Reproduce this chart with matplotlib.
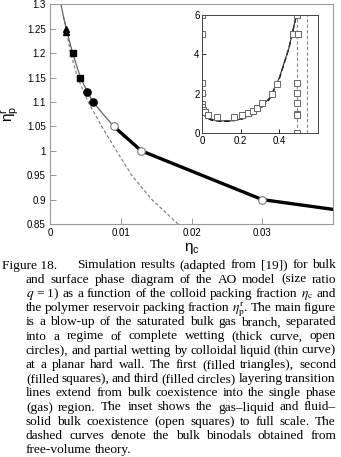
import matplotlib
matplotlib.use("Agg")
import matplotlib.pyplot as plt

plt.rcParams['font.family'] = ['Liberation Sans', 'DejaVu Sans']
plt.rcParams['mathtext.fontset'] = 'stix'

# main figure: saturated bulk gas branch
thin_x = [0.00155, 0.0019, 0.0023, 0.0032, 0.0043, 0.0053, 0.0061, 0.0075, 0.009]
thin_y = [1.3, 1.275, 1.25, 1.2, 1.15, 1.12, 1.10, 1.075, 1.05]
thick_x = [0.009, 0.0129, 0.03, 0.04]
thick_y = [1.05, 1.0, 0.9, 0.88]
fv_x = [0.0019, 0.0023, 0.0029, 0.0039, 0.0054, 0.0073, 0.0094, 0.01155, 0.0144, 0.0181]
fv_y = [1.275, 1.25, 1.2, 1.15, 1.1, 1.05, 1.0, 0.95, 0.9, 0.85]

tri_x = [0.0023, 0.0023]
tri_y = [1.25, 1.243]
sq_x = [0.0032, 0.0043]
sq_y = [1.2, 1.15]
circ_x = [0.0053, 0.0061]
circ_y = [1.12, 1.10]
open_x = [0.009, 0.0129, 0.03]
open_y = [1.05, 1.0, 0.9]

# inset: full scale bulk coexistence
ins_sq_x = [0, 0, 0, 0, 0, 0, 0.005, 0.014, 0.031, 0.078, 0.166, 0.208, 0.239,
            0.265, 0.286, 0.31, 0.36, 0.386, 0.471, 0.497, 0.49,
            0.49, 0.49, 0.49, 0.49, 0.49, 0.49]
ins_sq_y = [6, 5.02, 2.53, 2.02, 1.5, 1.35, 1.18, 1.06, 0.93, 0.81, 0.81, 0.91, 1.01,
            1.13, 1.26, 1.52, 2.0, 2.5, 5.03, 5.03, 6.0,
            2.53, 2.02, 1.52, 0.98, 0.91, 0]
sim_x = [0, 0.01, 0.03, 0.06, 0.1, 0.15, 0.2, 0.25, 0.3, 0.35, 0.4, 0.45, 0.49]
sim_y = [1.15, 0.95, 0.78, 0.68, 0.63, 0.63, 0.72, 0.92, 1.25, 1.8, 2.8, 4.3, 6.0]
fvi_x = [0, 0.02, 0.05, 0.1, 0.15, 0.2, 0.25, 0.3, 0.35, 0.4, 0.45, 0.49]
fvi_y = [1.05, 0.8, 0.66, 0.6, 0.62, 0.7, 0.88, 1.2, 1.75, 2.75, 4.3, 6.0]
freeze_x = 0.49
melt_x = 0.545

W, H = 341, 457
fig = plt.figure(figsize=(W / 100, H / 100), dpi=100)

ax = fig.add_axes([0.1466, 0.5098, 0.830, 0.4808])
ax.plot(fv_x, fv_y, color='#777777', lw=0.8, ls=(0, (3, 2)))
ax.plot(thin_x, thin_y, color='#666666', lw=0.9)
ax.plot(thick_x, thick_y, color='black', lw=2.4)
ax.plot(tri_x, tri_y, '^', color='black', ms=5)
ax.plot(sq_x, sq_y, 's', color='black', ms=4.5)
ax.plot(circ_x, circ_y, 'o', color='black', ms=5.2)
ax.plot(open_x, open_y, 'o', mfc='white', mec='#777777', mew=0.8, ms=5.5)
ax.set_xlim(0, 0.04)
ax.set_ylim(0.85, 1.3)
ax.set_xticks([0, 0.01, 0.02, 0.03])
ax.set_xticklabels(['0', '0.01', '0.02', '0.03'])
ax.set_yticks([0.85, 0.9, 0.95, 1.0, 1.05, 1.1, 1.15, 1.2, 1.25, 1.3])
ax.set_yticklabels(['0.85', '0.9', '0.95', '1', '1.05', '1.1', '1.15', '1.2', '1.25', '1.3'])
ax.tick_params(direction='in', length=4, width=0.6, color='#888888', labelsize=7, pad=3)
for s in ax.spines.values():
    s.set_color('#999999')
    s.set_linewidth(0.8)
ax.set_xlabel(r'$\mathregular{\eta_c}$', fontsize=11, labelpad=2)
ax.set_ylabel(r'$\mathregular{\eta_p^r}$', fontsize=11, labelpad=4)

ins = fig.add_axes([0.5933, 0.7083, 0.3384, 0.2595])
ins.plot([0, 0], [1.1, 6], color='#888888', lw=0.8, ls=(0, (3, 2)))
ins.plot([freeze_x, freeze_x], [0, 6], color='#888888', lw=0.8, ls=(0, (3, 2)))
ins.plot([melt_x, melt_x], [0, 6], color='#888888', lw=0.8, ls=(0, (3, 2)))
ins.plot(fvi_x, fvi_y, color='black', lw=1.0, ls=(0, (4, 2)))
ins.plot(sim_x, sim_y, color='#333333', lw=0.8)
ins.plot(ins_sq_x, ins_sq_y, 's', mfc='white', mec='#666666', mew=0.7, ms=4)
ins.set_xlim(0, 0.6)
ins.set_ylim(0, 6)
ins.set_xticks([0, 0.2, 0.4])
ins.set_xticklabels(['0', '0.2', '0.4'])
ins.set_yticks([0, 2, 4, 6])
ins.tick_params(direction='in', length=3, width=0.6, labelsize=7, pad=2)
for s in ins.spines.values():
    s.set_color('#444444')
    s.set_linewidth(0.7)

# caption, justified word by word
cap_lines = [
    "Simulation results (adapted from [19]) for bulk",
    "and surface phase diagram of the AO model (size ratio",
    r"$q$~=~1) as a function of the colloid packing fraction $\eta_\mathrm{c}$ and",
    r"the polymer reservoir packing fraction $\eta_\mathrm{p}^\mathrm{r}$. The main figure",
    "is a blow-up of the saturated bulk gas branch, separated",
    "into a regime of complete wetting (thick curve, open",
    "circles), and partial wetting by colloidal liquid (thin curve)",
    "at a planar hard wall. The first (filled triangles), second",
    "(filled squares), and third (filled circles) layering transition",
    "lines extend from bulk coexistence into the single phase",
    "(gas) region. The inset shows the gas–liquid and fluid–",
    "solid bulk coexistence (open squares) to full scale. The",
    "dashed curves denote the bulk binodals obtained from",
    "free-volume theory.",
]
cap_font = dict(family='Liberation Serif', fontsize=9.6, va='baseline', ha='left')
renderer = fig.canvas.get_renderer()


def put_line(line, x0, x1, yb, justify=True):
    words = [w.replace('~', ' ') for w in line.split(' ')]
    texts = [fig.text(0, 0, w, **cap_font) for w in words]
    widths = [t.get_window_extent(renderer).width for t in texts]
    if justify and len(words) > 1:
        gap = max((x1 - x0 - sum(widths)) / (len(words) - 1), 1.5)
    else:
        gap = 3.0
    x = x0
    for t, w in zip(texts, widths):
        t.set_position((x / W, 1 - yb / H))
        x += w + gap


y0 = 268.5
fig.text(2 / W, 1 - y0 / H, "Figure 18.", **cap_font)
for i, line in enumerate(cap_lines):
    xs = 77 if i == 0 else 26
    put_line(line, xs, 336, y0 + 14.2 * i, justify=(i < len(cap_lines) - 1))

fig.savefig('out.png', dpi=100)
